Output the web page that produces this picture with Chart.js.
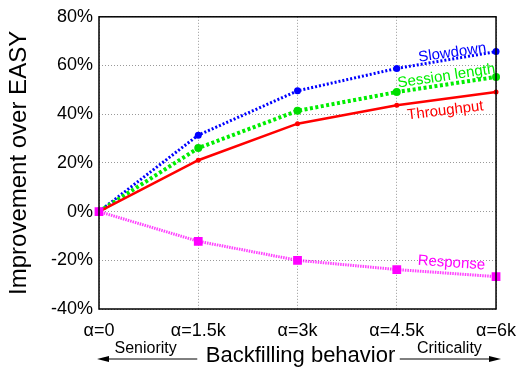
<!DOCTYPE html>
<html>
<head>
<meta charset="utf-8">
<script src="https://cdn.jsdelivr.net/npm/chart.js@4/dist/chart.umd.min.js"></script>
<style>
html,body{margin:0;padding:0;background:#fff;}
#wrap{width:527px;height:372px;position:relative;}
</style>
</head>
<body>
<div id="wrap"><canvas id="c" width="527" height="372"></canvas></div>
<script>
const categories = ["α=0", "α=1.5k", "α=3k", "α=4.5k", "α=6k"];
const slowdown = [0, 31.4, 49.6, 58.8, 65.7];
const sessionLength = [0, 26.1, 41.4, 49.1, 55.3];
const throughput = [0, 21.1, 36.1, 43.7, 49.1];
const response = [0, -12.2, -20.0, -23.8, -26.7];
const yTicks = [-40, -20, 0, 20, 40, 60, 80];
const yTitle = "Improvement over EASY";
const xTitle = "Backfilling behavior";
const leftNote = "Seniority";
const rightNote = "Criticality";

const FONT = "'Liberation Sans', Arial, Helvetica, sans-serif";

const curveLabels = {
  id: 'curveLabels',
  afterDatasetsDraw(chart, args, opts) {
    const ctx = chart.ctx, xs = chart.scales.x, ys = chart.scales.y;
    ctx.save();
    ctx.font = "15px " + FONT;
    ctx.textAlign = 'center';
    ctx.textBaseline = 'middle';
    for (const l of opts.items) {
      ctx.save();
      ctx.translate(xs.getPixelForValue(l.xi), ys.getPixelForValue(l.yv));
      ctx.rotate(l.angle * Math.PI / 180);
      ctx.fillStyle = l.color;
      ctx.fillText(l.text, 0, 0);
      ctx.restore();
    }
    ctx.restore();
  }
};

const frameAndBottom = {
  id: 'frameAndBottom',
  afterDraw(chart) {
    const ctx = chart.ctx, a = chart.chartArea, xs = chart.scales.x;
    ctx.save();
    ctx.strokeStyle = '#000';
    ctx.lineWidth = 1.5;
    ctx.strokeRect(a.left, a.top, a.right - a.left, a.bottom - a.top);
    ctx.fillStyle = '#000';
    ctx.textAlign = 'center';
    ctx.textBaseline = 'alphabetic';
    ctx.font = "22px " + FONT;
    ctx.fillText(xTitle, (a.left + a.right) / 2 + 3, a.bottom + 53);
    ctx.font = "16px " + FONT;
    ctx.fillText(leftNote, xs.getPixelForValue(0.47), a.bottom + 44);
    ctx.fillText(rightNote, xs.getPixelForValue(3.53), a.bottom + 44);
    const ay = a.bottom + 50;
    ctx.lineWidth = 1;
    const x0 = xs.getPixelForValue(0), x1 = xs.getPixelForValue(0.99);
    const x2 = xs.getPixelForValue(3.03), x3 = xs.getPixelForValue(4.03);
    ctx.beginPath();
    ctx.moveTo(x1, ay); ctx.lineTo(x0 + 4, ay);
    ctx.moveTo(x2, ay); ctx.lineTo(x3 - 4, ay);
    ctx.stroke();
    ctx.beginPath();
    ctx.moveTo(x0 - 2, ay); ctx.lineTo(x0 + 10, ay - 3); ctx.lineTo(x0 + 10, ay + 3); ctx.closePath();
    ctx.moveTo(x3 + 2, ay); ctx.lineTo(x3 - 10, ay - 3); ctx.lineTo(x3 - 10, ay + 3); ctx.closePath();
    ctx.fill();
    ctx.restore();
  }
};

new Chart(document.getElementById('c'), {
  type: 'line',
  data: {
    labels: categories,
    datasets: [
      { label: 'Response', data: response, borderColor: 'rgba(255,0,255,0.75)', backgroundColor: '#ff00ff',
        borderWidth: 3, borderDash: [1.5, 1], pointStyle: 'rect', pointRadius: 6.2, pointBorderWidth: 0, tension: 0 },
      { label: 'Throughput', data: throughput, borderColor: '#ff0000', backgroundColor: '#ff0000',
        borderWidth: 2.5, pointStyle: 'circle', pointRadius: 2.5, pointBorderWidth: 0, tension: 0 },
      { label: 'Session length', data: sessionLength, borderColor: '#00ee00', backgroundColor: '#00dd00',
        borderWidth: 4, borderDash: [3, 2.5], pointStyle: 'circle', pointRadius: 4, pointBorderWidth: 0, tension: 0 },
      { label: 'Slowdown', data: slowdown, borderColor: '#0000ff', backgroundColor: '#0000ff',
        borderWidth: 3, borderDash: [2, 2], pointStyle: 'circle', pointRadius: 3.5, pointBorderWidth: 0, tension: 0 }
    ]
  },
  options: {
    responsive: false,
    animation: false,
    layout: { padding: { top: 14, right: 28, left: 0, bottom: 0 } },
    plugins: {
      legend: { display: false },
      tooltip: { enabled: false },
      curveLabels: {
        items: [
          { text: 'Slowdown', color: '#0000ff', xi: 3.56, yv: 65.2, angle: -8 },
          { text: 'Session length', color: '#00ee00', xi: 3.50, yv: 55.6, angle: -8.5 },
          { text: 'Throughput', color: '#ff0000', xi: 3.49, yv: 41.4, angle: -7 },
          { text: 'Response', color: '#ff00ff', xi: 3.55, yv: -21.1, angle: 4 }
        ]
      }
    },
    scales: {
      x: {
        type: 'category',
        offset: false,
        grid: { color: '#999', lineWidth: 1, drawTicks: false },
        border: { display: false, dash: [1, 2] },
        ticks: { color: '#000', font: { family: FONT, size: 18 }, padding: 11, maxRotation: 0, autoSkip: false },
        afterFit(s) { s.height = 63; }
      },
      y: {
        min: -40, max: 80,
        afterBuildTicks(s) { s.ticks = yTicks.map(v => ({ value: v })); },
        grid: { color: '#999', lineWidth: 1, drawTicks: false },
        border: { display: false, dash: [1, 2] },
        ticks: { color: '#000', font: { family: FONT, size: 18 }, padding: 6, callback: v => v + '%' },
        title: { display: true, text: yTitle, color: '#000', font: { family: FONT, size: 24 }, padding: { top: 5, bottom: 0 } },
        afterFit(s) { s.width = 99; }
      }
    }
  },
  plugins: [curveLabels, frameAndBottom]
});
</script>
</body>
</html>
